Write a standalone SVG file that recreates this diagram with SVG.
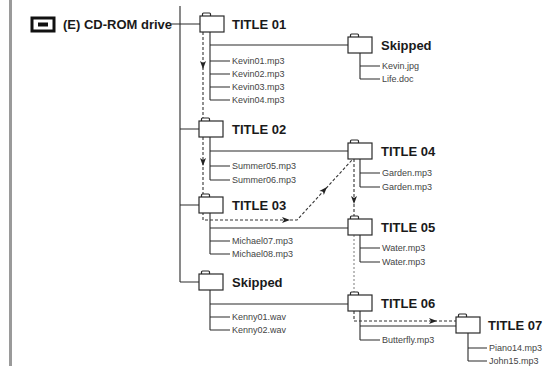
<svg xmlns="http://www.w3.org/2000/svg" xmlns:xlink="http://www.w3.org/1999/xlink" width="552" height="366" viewBox="0 0 552 366">
<style>
.ln{fill:none;stroke:#2a2a2a;stroke-width:1.1}
.ds{fill:none;stroke:#333;stroke-width:1.1;stroke-dasharray:3 2}
.dg{fill:none;stroke:#888;stroke-width:1.1;stroke-dasharray:2 2}
.fb{fill:#fff;stroke:#2a2a2a;stroke-width:1.2}
.t{font-family:"Liberation Sans",Arial,sans-serif;font-weight:bold;font-size:13px;fill:#1a1a1a}
.s{font-family:"Liberation Sans",Arial,sans-serif;font-size:9px;fill:#444}
.ah{fill:#222}
</style>
<defs>
<g id="folder"><rect x="2.5" y="-3" width="8" height="4" rx="1" class="fb"/><rect x="0" y="0" width="24" height="16" class="fb"/></g>
<path id="arr" d="M0 0 L-8 -3 L-6 0 L-8 3 Z"/>
</defs>
<rect x="9" y="0" width="3" height="366" fill="#9a9a9a"/>
<g id="drive">
<rect x="32" y="18" width="22" height="13" fill="#fff" stroke="#111" stroke-width="3"/>
<rect x="38" y="22.5" width="10" height="4" fill="#111"/>
<text class="t" x="63" y="29">(E) CD-ROM drive</text>
</g>
<g id="connectors">
<path class="ln" d="M180 6 V282 M170 24 H200 M180 129 H199 M180 205 H199 M180 282 H199"/>
<path class="ln" d="M210 32 V100 M210 45 H348 M210 61 H230 M210 74 H230 M210 87 H230 M210 100 H230"/>
<path class="ln" d="M360 53 V79 M360 66 H380 M360 79 H380"/>
<path class="ln" d="M210 137 V180 M210 151 H348 M210 166 H230 M210 180 H230"/>
<path class="ln" d="M360 159 V187 M360 173 H380 M360 187 H380"/>
<path class="ln" d="M210 213 V254 M210 228 H348 M210 241 H230 M210 254 H230"/>
<path class="ln" d="M360 235 V262 M360 248 H380 M360 262 H380"/>
<path class="ln" d="M210 290 V330 M210 304 H348 M210 317 H230 M210 330 H230"/>
<path class="ln" d="M360 311 V340 M360 326 H456 M360 340 H380"/>
<path class="ln" d="M468 333 V361 M468 348 H487 M468 361 H487"/>
<path class="ds" d="M203 32 V121"/>
<path class="ds" d="M203 137 V220 H297 L352 160"/>
<path class="ds" d="M354 159 V219"/>
<path class="dg" d="M354 235 V295"/>
<path class="ds" d="M354 311 V321 H456"/>
<use xlink:href="#arr" class="ah" transform="translate(203 69) rotate(90)"/>
<use xlink:href="#arr" class="ah" transform="translate(203 166) rotate(90)"/>
<use xlink:href="#arr" class="ah" transform="translate(290 220)"/>
<use xlink:href="#arr" class="ah" transform="translate(327 187) rotate(-47.6)"/>
<use xlink:href="#arr" class="ah" transform="translate(354 204) rotate(90)"/>
<use xlink:href="#arr" class="ah" transform="translate(437 321)"/>
</g>
<g id="title01"><use xlink:href="#folder" x="200" y="16"/><text class="t" x="232" y="29">TITLE 01</text>
<text class="s" x="232" y="64">Kevin01.mp3</text><text class="s" x="232" y="77">Kevin02.mp3</text><text class="s" x="232" y="90">Kevin03.mp3</text><text class="s" x="232" y="103">Kevin04.mp3</text></g>
<g id="skipped1"><use xlink:href="#folder" x="348" y="37"/><text class="t" x="381" y="50">Skipped</text>
<text class="s" x="382" y="69">Kevin.jpg</text><text class="s" x="382" y="82">Life.doc</text></g>
<g id="title02"><use xlink:href="#folder" x="199" y="121"/><text class="t" x="232" y="134">TITLE 02</text>
<text class="s" x="232" y="169">Summer05.mp3</text><text class="s" x="232" y="183">Summer06.mp3</text></g>
<g id="title04"><use xlink:href="#folder" x="348" y="143"/><text class="t" x="381" y="156">TITLE 04</text>
<text class="s" x="382" y="176">Garden.mp3</text><text class="s" x="382" y="190">Garden.mp3</text></g>
<g id="title03"><use xlink:href="#folder" x="199" y="197"/><text class="t" x="232" y="210">TITLE 03</text>
<text class="s" x="232" y="244">Michael07.mp3</text><text class="s" x="232" y="257">Michael08.mp3</text></g>
<g id="title05"><use xlink:href="#folder" x="348" y="219"/><text class="t" x="381" y="232">TITLE 05</text>
<text class="s" x="382" y="251">Water.mp3</text><text class="s" x="382" y="265">Water.mp3</text></g>
<g id="skipped2"><use xlink:href="#folder" x="199" y="274"/><text class="t" x="232" y="287">Skipped</text>
<text class="s" x="232" y="320">Kenny01.wav</text><text class="s" x="232" y="333">Kenny02.wav</text></g>
<g id="title06"><use xlink:href="#folder" x="348" y="295"/><text class="t" x="381" y="308">TITLE 06</text>
<text class="s" x="382" y="343">Butterfly.mp3</text></g>
<g id="title07"><use xlink:href="#folder" x="456" y="317"/><text class="t" x="488" y="330">TITLE 07</text>
<text class="s" x="489" y="351">Piano14.mp3</text><text class="s" x="489" y="364">John15.mp3</text></g>
</svg>
